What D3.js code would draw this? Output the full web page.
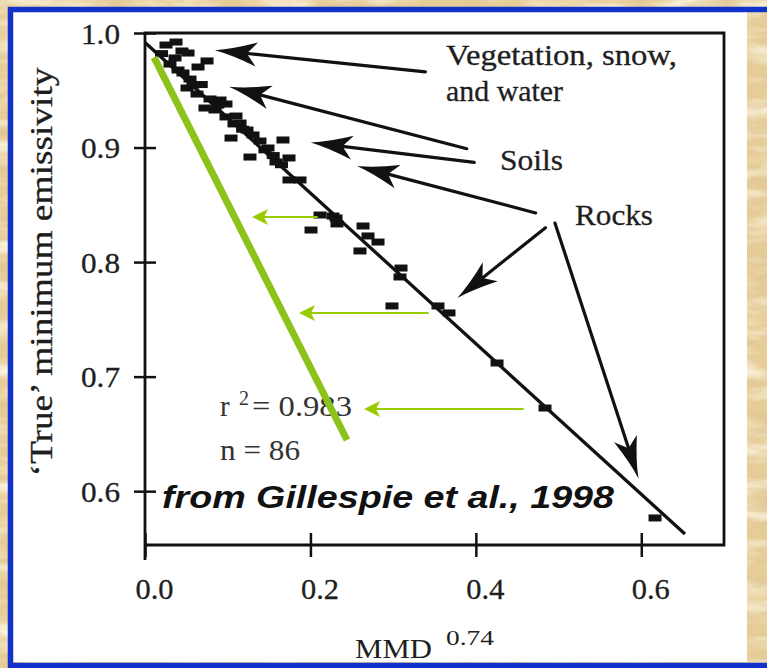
<!DOCTYPE html>
<html>
<head>
<meta charset="utf-8">
<script src="https://cdn.jsdelivr.net/npm/d3@7"></script>
<style>
  html, body { margin: 0; padding: 0; background: #e8d09d; overflow: hidden; }
  svg { display: block; }
</style>
</head>
<body>
<svg id="chart" width="767" height="668"></svg>
<script>
// ---- data -------------------------------------------------------------
const xTicks = [0, 0.2, 0.4, 0.6];
const xTickLabels = ["0.0", "0.2", "0.4", "0.6"];
const yTicks = [0.6, 0.7, 0.8, 0.9, 1.0];
const yTickLabels = ["0.6", "0.7", "0.8", "0.9", "1.0"];

// MMD^0.74 vs 'true' minimum emissivity (laboratory spectra)
const mmdX = [
  0.0254, 0.0375, 0.0447, 0.052, 0.075, 0.0641, 0.0302, 0.0399, 0.0459, 0.0544,
  0.0508, 0.0629, 0.0786, 0.0725, 0.0907, 0.0979, 0.0979, 0.1076, 0.104, 0.1149,
  0.1233, 0.1269, 0.139, 0.1668, 0.1741, 0.1741, 0.1874, 0.2116, 0.2273,
  0.0363, 0.058, 0.0846, 0.11, 0.1306, 0.1487, 0.1584,
  0.020, 0.068, 0.088, 0.118, 0.145, 0.155, 0.165,
  0.2309, 0.2321, 0.2007, 0.2636, 0.2696, 0.2817, 0.2599, 0.3095, 0.3083,
  0.2986, 0.3542, 0.3675, 0.4256, 0.4836, 0.6166
];
const emisY = [
  0.9895, 0.9921, 0.9843, 0.9825, 0.9756, 0.9703, 0.9729, 0.9677, 0.9651, 0.9598,
  0.952, 0.9467, 0.9424, 0.9345, 0.9415, 0.938, 0.9267, 0.9206, 0.9083, 0.9214,
  0.9153, 0.8917, 0.9057, 0.9066, 0.8909, 0.8717, 0.8717, 0.8411, 0.8402,
  0.9782, 0.9546, 0.9328, 0.9275, 0.911, 0.8996, 0.8874,
  0.982, 0.955, 0.937, 0.916, 0.898, 0.893, 0.885,
  0.8385, 0.8333, 0.828, 0.8315, 0.8228, 0.8175, 0.8097, 0.7948, 0.787,
  0.7617, 0.7617, 0.7556, 0.7119, 0.6726, 0.5766
];

// regression line
const fitX = [0, 0.6528];
const fitY = [0.9917, 0.5626];

// steeper (green) relation
const greenX = [0.0109, 0.2442];
const greenY = [0.9787, 0.6447];

// black callout arrows: label end -> tip
const calloutFromX = [0.339, 0.389, 0.398, 0.4723, 0.4842, 0.4957];
const calloutFromY = [0.966, 0.899, 0.887, 0.8429, 0.830, 0.834];
const calloutToX   = [0.0846, 0.1016, 0.2003, 0.2563, 0.3777, 0.5966];
const calloutToY   = [0.985, 0.953, 0.9044, 0.8839, 0.7687, 0.611];

// green shift arrows
const shiftFromX = [0.2079, 0.3421, 0.457];
const shiftToX   = [0.1294, 0.1862, 0.2648];
const shiftY     = [0.8394, 0.7556, 0.6717];

// ---- drawing ----------------------------------------------------------
const svg = d3.select("#chart");
const SERIF = "'Liberation Serif', 'Times New Roman', serif";
const SANS = "'Liberation Sans', Arial, sans-serif";
const INK = "#111";
const TEXT = "#1e1e1e";
const LIME = "#8cc21a";

const x = d3.scaleLinear().domain([0, 0.7]).range([145, 724]);
const y = d3.scaleLinear().domain([0.553, 1.0]).range([545, 33]);

// parchment background
const defs = svg.append("defs");
const paper = defs.append("filter").attr("id", "paperLight")
  .attr("x", 0).attr("y", 0).attr("width", "100%").attr("height", "100%");
paper.append("feTurbulence").attr("type", "fractalNoise")
  .attr("baseFrequency", "0.012 0.05").attr("numOctaves", 4).attr("seed", 7);
paper.append("feColorMatrix").attr("type", "matrix")
  .attr("values", "0 0 0 0 1  0 0 0 0 0.97  0 0 0 0 0.86  2.4 0 0 0 -1.05");
const paperD = defs.append("filter").attr("id", "paperDark")
  .attr("x", 0).attr("y", 0).attr("width", "100%").attr("height", "100%");
paperD.append("feTurbulence").attr("type", "fractalNoise")
  .attr("baseFrequency", "0.02 0.08").attr("numOctaves", 3).attr("seed", 21);
paperD.append("feColorMatrix").attr("type", "matrix")
  .attr("values", "0 0 0 0 0.72  0 0 0 0 0.55  0 0 0 0 0.3  0 2.2 0 0 -1.15");

svg.append("rect").attr("width", 767).attr("height", 668).attr("fill", "#e6cc97");
svg.append("rect").attr("width", 767).attr("height", 668).attr("filter", "url(#paperLight)");
svg.append("rect").attr("width", 767).attr("height", 668).attr("filter", "url(#paperDark)");

// white panel and blue frame
svg.append("rect").attr("x", 13).attr("y", 12).attr("width", 734).attr("height", 650).attr("fill", "#fff");
svg.append("rect").attr("x", 10.5).attr("y", 9.5).attr("width", 800).attr("height", 656)
  .attr("fill", "none").attr("stroke", "#1133cc").attr("stroke-width", 5.5);

// plot box
const [x0, x1] = x.range();
const [yb, yt] = y.range();
svg.append("path")
  .attr("d", `M${x0},${yb + 15}V${yt}H${x1}V${yb}H${x0}`)
  .attr("fill", "none").attr("stroke", INK).attr("stroke-width", 2.8);

// x axis
const gx = svg.append("g").attr("transform", `translate(0,${yb})`)
  .call(d3.axisBottom(x).tickValues(xTicks).tickFormat((d, i) => xTickLabels[i]).tickSize(12).tickPadding(0));
gx.select(".domain").remove();
gx.selectAll(".tick line").attr("y1", -12).attr("y2", 12).attr("stroke", INK).attr("stroke-width", 2.5);
gx.selectAll(".tick text").attr("y", 44).attr("dy", "0.35em").attr("dx", 9)
  .attr("fill", TEXT).attr("stroke", TEXT).attr("stroke-width", 0.3)
  .style("font-family", SERIF).style("font-size", "29px")
  .attr("textLength", 38).attr("lengthAdjust", "spacingAndGlyphs");

// y axis
const gy = svg.append("g").attr("transform", `translate(${x0},0)`)
  .call(d3.axisLeft(y).tickValues(yTicks).tickFormat((d, i) => yTickLabels[i]).tickSize(11).tickPadding(0));
gy.select(".domain").remove();
gy.selectAll(".tick line").attr("x1", -11).attr("x2", 11).attr("stroke", INK).attr("stroke-width", 2.5);
gy.selectAll(".tick text").attr("x", -25).attr("dy", "0.35em")
  .attr("fill", TEXT).attr("stroke", TEXT).attr("stroke-width", 0.3)
  .style("font-family", SERIF).style("font-size", "29px")
  .attr("textLength", 39).attr("lengthAdjust", "spacingAndGlyphs");

// axis titles
svg.append("text")
  .attr("transform", "translate(52,272) rotate(-90)")
  .attr("text-anchor", "middle").attr("fill", TEXT).attr("stroke", TEXT).attr("stroke-width", 0.3)
  .style("font-family", SERIF).style("font-size", "31px")
  .attr("textLength", 409).attr("lengthAdjust", "spacingAndGlyphs")
  .text("\u2018True\u2019 minimum emissivity");
svg.append("text").attr("x", 355).attr("y", 658).attr("fill", TEXT)
  .style("font-family", SERIF).style("font-size", "28px")
  .attr("textLength", 77).attr("lengthAdjust", "spacingAndGlyphs").text("MMD");
svg.append("text").attr("x", 446).attr("y", 645).attr("fill", TEXT)
  .style("font-family", SERIF).style("font-size", "22px")
  .attr("textLength", 48).attr("lengthAdjust", "spacingAndGlyphs").text("0.74");

// regression line
svg.append("line")
  .attr("x1", x(fitX[0])).attr("y1", y(fitY[0]))
  .attr("x2", x(fitX[1])).attr("y2", y(fitY[1]))
  .attr("stroke", INK).attr("stroke-width", 3.3);

// data points (short dashes)
const pts = mmdX.map((v, i) => ({ mx: v, e: emisY[i] }));
svg.append("g").selectAll("rect").data(pts).join("rect")
  .attr("x", d => x(d.mx) - 6.5).attr("y", d => y(d.e) - 3.5)
  .attr("width", 13).attr("height", 7).attr("fill", INK);

// statistics text
svg.append("text").attr("x", 220).attr("y", 416).attr("fill", "#333")
  .style("font-family", SERIF).style("font-size", "29px").text("r");
svg.append("text").attr("x", 239).attr("y", 405).attr("fill", "#333")
  .style("font-family", SERIF).style("font-size", "20px").text("2");
svg.append("text").attr("x", 252).attr("y", 416).attr("fill", "#333")
  .style("font-family", SERIF).style("font-size", "29px")
  .attr("textLength", 100).attr("lengthAdjust", "spacingAndGlyphs").text("= 0.983");
svg.append("text").attr("x", 220).attr("y", 460).attr("fill", "#333")
  .style("font-family", SERIF).style("font-size", "29px")
  .attr("textLength", 80).attr("lengthAdjust", "spacingAndGlyphs").text("n = 86");

// source
svg.append("text").attr("x", 162).attr("y", 508).attr("fill", "#111")
  .style("font-family", SANS).style("font-size", "32px")
  .style("font-weight", "bold").style("font-style", "italic")
  .attr("textLength", 452).attr("lengthAdjust", "spacingAndGlyphs")
  .text("from Gillespie et al., 1998");

// class labels
const labelStyle = s => s.attr("fill", TEXT).attr("stroke", TEXT).attr("stroke-width", 0.3)
  .style("font-family", SERIF).style("font-size", "30px")
  .attr("lengthAdjust", "spacingAndGlyphs");
svg.append("text").attr("x", 446).attr("y", 65).attr("textLength", 231).call(labelStyle).text("Vegetation, snow,");
svg.append("text").attr("x", 446).attr("y", 101).attr("textLength", 117).call(labelStyle).text("and water");
svg.append("text").attr("x", 500).attr("y", 170).attr("textLength", 63).call(labelStyle).text("Soils");
svg.append("text").attr("x", 575).attr("y", 225).attr("textLength", 78).call(labelStyle).text("Rocks");

// arrow helper
function arrow(g, fx, fy, tx, ty, head, back, color, width) {
  const p0 = [x(fx), y(fy)], p1 = [x(tx), y(ty)];
  const ang = Math.atan2(p1[1] - p0[1], p1[0] - p0[0]);
  const ex = p1[0] - Math.cos(ang) * back, ey = p1[1] - Math.sin(ang) * back;
  g.append("line").attr("x1", p0[0]).attr("y1", p0[1]).attr("x2", ex).attr("y2", ey)
    .attr("stroke", color).attr("stroke-width", width).attr("stroke-linecap", "round");
  g.append("path").attr("d", head)
    .attr("transform", `translate(${p1[0]},${p1[1]}) rotate(${ang * 180 / Math.PI})`)
    .attr("fill", color);
}

const BLACK_HEAD = "M0,0 Q-18,-3 -42,-12 L-32,0 L-42,12 Q-18,3 0,0Z";
const gCall = svg.append("g");
calloutFromX.forEach((v, i) =>
  arrow(gCall, v, calloutFromY[i], calloutToX[i], calloutToY[i], BLACK_HEAD, 30, INK, 3.2));

// green relation line
svg.append("line")
  .attr("x1", x(greenX[0])).attr("y1", y(greenY[0]))
  .attr("x2", x(greenX[1])).attr("y2", y(greenY[1]))
  .attr("stroke", LIME).attr("stroke-width", 7);

const GREEN_HEAD = "M0,0 L-16,-8 L-12,0 L-16,8Z";
const gShift = svg.append("g");
shiftFromX.forEach((v, i) =>
  arrow(gShift, v, shiftY[i], shiftToX[i], shiftY[i], GREEN_HEAD, 12, "#99cc00", 2));
</script>
</body>
</html>
